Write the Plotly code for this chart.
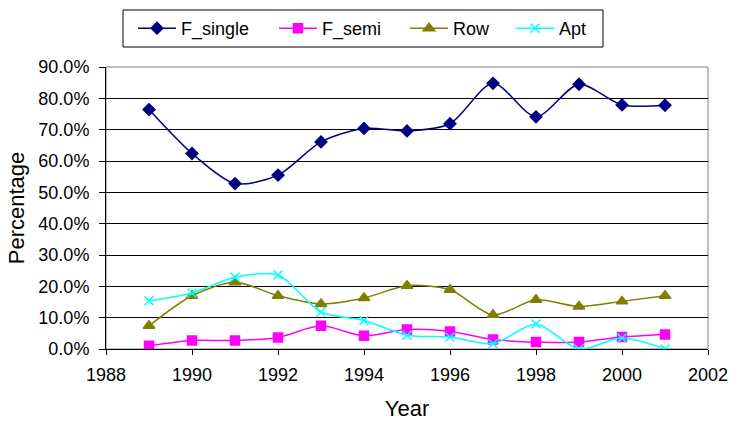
import plotly.graph_objects as go

years = [1989, 1990, 1991, 1992, 1993, 1994, 1995, 1996, 1997, 1998, 1999, 2000, 2001]
f_single = [76.4, 62.4, 52.8, 55.5, 66.1, 70.4, 69.6, 71.9, 84.8, 74.1, 84.5, 77.9, 77.8]
f_semi = [1.0, 2.7, 2.7, 3.7, 7.4, 4.2, 6.2, 5.6, 3.0, 2.2, 2.2, 3.8, 4.6]
row = [7.4, 17.0, 21.3, 17.0, 14.4, 16.3, 20.2, 18.9, 10.9, 15.7, 13.6, 15.2, 17.0]
apt = [15.4, 17.9, 22.9, 23.6, 11.8, 9.1, 4.4, 3.8, 1.7, 8.0, 0.0, 3.5, 0.0]

series = [
    ("F_single", f_single, "#000080", "diamond", 9),
    ("F_semi", f_semi, "#FF00FF", "square", 9),
    ("Row", row, "#808000", "triangle-up", 10),
    ("Apt", apt, "#00FFFF", "x-thin", 9),
]

# legend entry left edges in pixels (legend box placement)
L, R, T, B = 106, 23, 67, 72
W, H = 731, 421
pw, ph = W - L - R, H - T - B
legend_px = [133, 274, 405, 511]

font = dict(family="Liberation Sans, Arial, sans-serif", size=18, color="black")

fig = go.Figure()
layout_legends = {}
for i, (name, vals, color, sym, size) in enumerate(series):
    lname = "legend" if i == 0 else f"legend{i+1}"
    fig.add_trace(go.Scatter(
        x=years, y=[v / 100 for v in vals], name=name, mode="lines+markers",
        line=dict(color=color, width=1.5, shape="spline", smoothing=0.8),
        marker=dict(symbol=sym, size=size, color=color,
                    line=dict(color=color, width=1.5)),
        legend=lname,
    ))
    layout_legends[lname] = dict(
        x=(legend_px[i] - L) / pw, xanchor="left",
        y=(H - B - 28.5) / ph, yanchor="middle",
        borderwidth=0, bgcolor="rgba(0,0,0,0)", font=font, itemwidth=38,
    )

fig.update_layout(
    width=W, height=H,
    margin=dict(l=L, r=R, t=T, b=B, autoexpand=False),
    paper_bgcolor="white", plot_bgcolor="white",
    font=font,
    showlegend=True,
    xaxis=dict(range=[1988, 2002], dtick=2, tick0=1988, showgrid=False,
               showline=True, linecolor="black", linewidth=1,
               ticks="outside", ticklen=5, tickcolor="black", ticklabelstandoff=4,
               title=dict(text="Year", standoff=21), zeroline=False),
    yaxis=dict(range=[0, 0.9], dtick=0.1, tickformat=".1%", showgrid=True,
               gridcolor="black", gridwidth=1,
               showline=True, linecolor="black", linewidth=1,
               ticks="outside", ticklen=6, tickcolor="black", ticklabelstandoff=6,
               title=dict(text="Percentage", standoff=7), zeroline=False),
    **layout_legends,
)
fig.add_shape(type="rect", xref="paper", yref="paper", x0=0, y0=0, x1=1, y1=1,
              line=dict(color="#808080", width=1), layer="below")
# overall legend frame
fig.add_shape(type="rect", xref="paper", yref="paper",
              x0=(123 - L) / pw, x1=(603 - L) / pw,
              y0=(H - B - 47) / ph, y1=(H - B - 10) / ph,
              line=dict(color="black", width=1), layer="above")

fig.write_html("out.html")
